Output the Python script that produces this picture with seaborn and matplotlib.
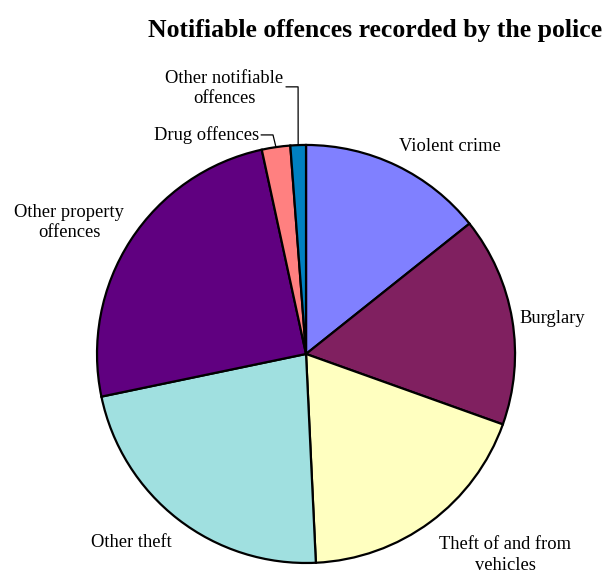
import numpy as np
import matplotlib
matplotlib.use("Agg")
import matplotlib.pyplot as plt
import seaborn as sns

# data (percent share of offences)
categories = ["Violent crime", "Burglary", "Theft of and from\nvehicles", "Other theft",
              "Other property\noffences", "Drug offences", "Other notifiable\noffences"]
shares = [14.3, 16.2, 18.8, 22.5, 24.9, 2.2, 1.2]
colours = ["#8080FF", "#802060", "#FFFFC0", "#A0E0E0", "#600080", "#FF8080", "#0080C0"]

# label anchors (pie radius = 1), placed as in the original
label_pos = [(0.689, 0.995), (1.177, 0.172), (0.952, -0.962), (-0.837, -0.904),
             (-1.134, 0.629), (-0.225, 1.048), (-0.392, 1.270)]
label_ha = ["center", "center", "center", "center", "center", "right", "center"]

sns.set_theme(style="white")
plt.rcParams["font.family"] = ["Liberation Serif", "DejaVu Serif"]
plt.rcParams["text.color"] = "black"

fig = plt.figure(figsize=(6.06, 5.75), dpi=100)
ax = fig.add_axes([0.160, 0.0209, 0.690, 0.727])

wedges, _ = ax.pie(shares, colors=colours, startangle=90, counterclock=False,
                   wedgeprops=dict(edgecolor="black", linewidth=1.6))
ax.set_xlim(-1, 1)
ax.set_ylim(-1, 1)
ax.set_aspect("equal")
ax.axis("off")

for lab, (lx, ly), ha in zip(categories, label_pos, label_ha):
    ax.text(lx, ly, lab, ha=ha, va="center", fontsize=13.3, linespacing=1.3,
            color="black")

# leader lines for the two thin slices
for idx, elbow_x, line_y in [(5, -0.158, 1.048), (6, -0.038, 1.278)]:
    w = wedges[idx]
    mid = np.deg2rad((w.theta1 + w.theta2) / 2)
    ex, ey = np.cos(mid), np.sin(mid)
    lx = label_pos[idx][0]
    start_x = lx + 0.01 if idx == 5 else -0.096
    ax.plot([start_x, elbow_x, ex], [line_y, line_y, ey], color="black",
            lw=0.9, clip_on=False)

fig.text(375 / 606, 1 - 30 / 575, "Notifiable offences recorded by the police",
         ha="center", va="center", fontsize=18.5, fontweight="bold", color="black")

fig.savefig("out.png", dpi=100, facecolor="white")
